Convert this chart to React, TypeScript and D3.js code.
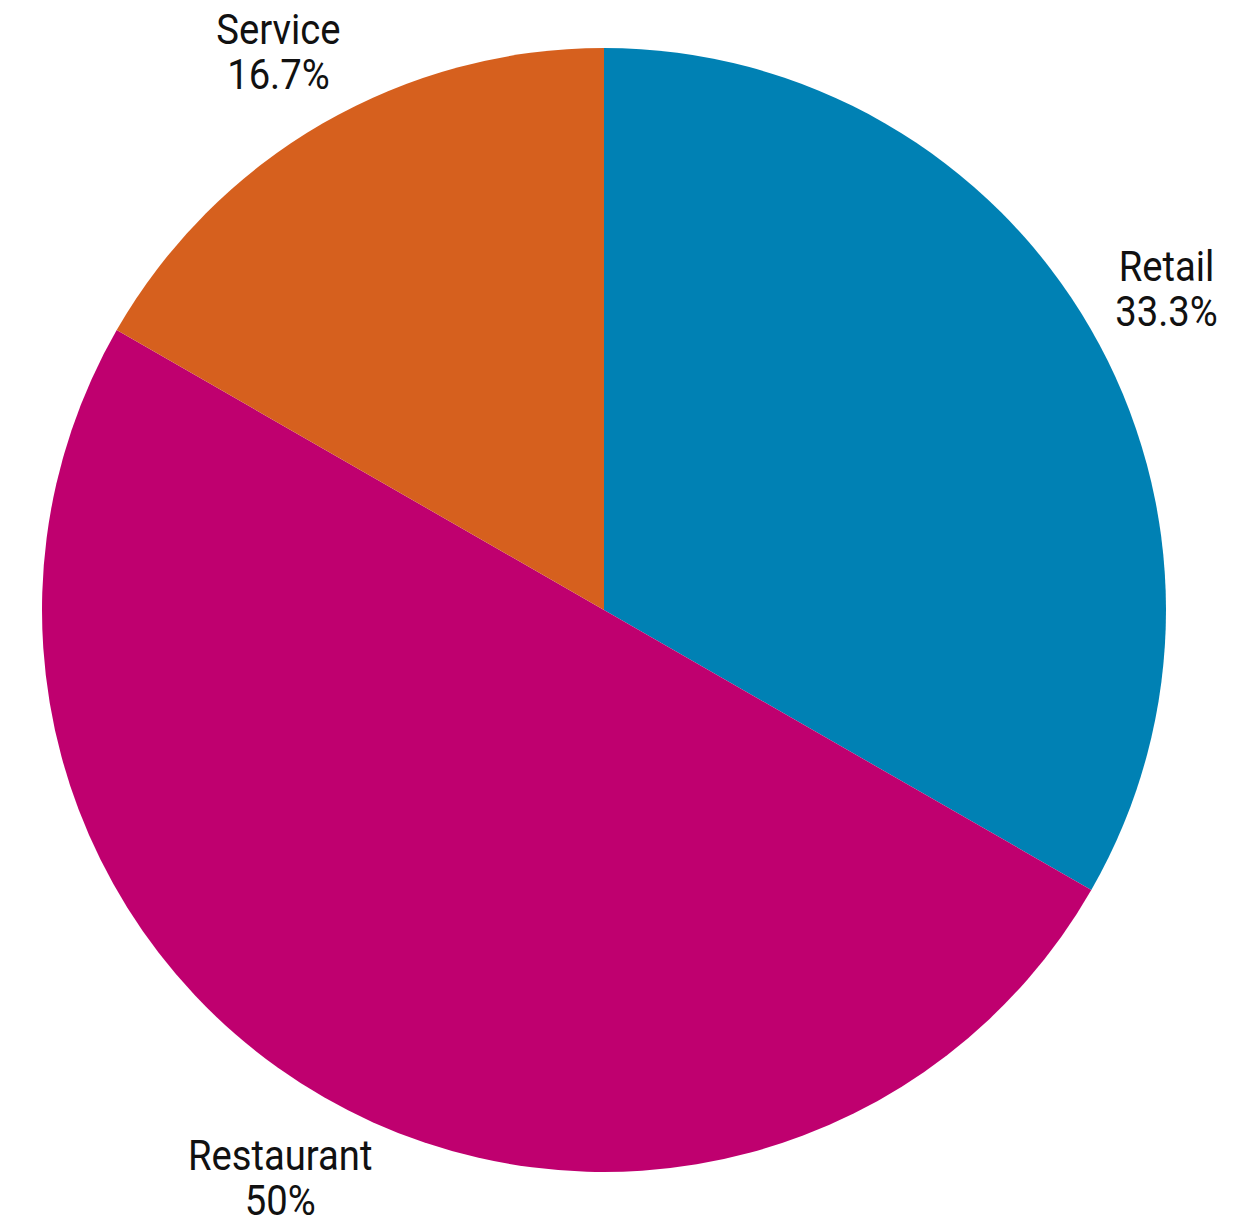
import React from "react";
import * as d3 from "d3";

const categories = ["Retail", "Restaurant", "Service"];
const values = [33.3, 50, 16.7];
const valueLabels = ["33.3%", "50%", "16.7%"];
const colors = ["#0081B4", "#BF006F", "#D6601E"];

export default function App() {
  const width = 1253;
  const height = 1224;
  const cx = 604;
  const cy = 610;
  const r = 562;
  const labelR = 650;
  const fontSize = 42;
  const sx = 0.91;
  const lineH = 45.5;
  const cap = fontSize * 0.711;
  const dyShift = 4;
  const data = categories.map((c, i) => ({ c, v: values[i], l: valueLabels[i], color: colors[i] }));
  const pie = d3.pie<any>().value((d) => d.v).sort(null);
  const arcs = pie(data);
  const arc = d3.arc<any>().innerRadius(0).outerRadius(r);
  return (
    <svg width={width} height={height} style={{ position: "absolute", left: 0, top: 0 }}>
      <g transform={`translate(${cx},${cy})`}>
        {arcs.map((a, i) => (
          <path key={i} d={arc(a) as string} fill={a.data.color} />
        ))}
        {arcs.map((a, i) => {
          const mid = (a.startAngle + a.endAngle) / 2;
          const bx = Math.sin(mid) * labelR;
          const by = -Math.cos(mid) * labelR + dyShift;
          const h = cap + lineH;
          const top = by - h / 2;
          return (
            <g key={"l" + i} transform={`translate(${bx},${top}) scale(${sx},1)`}>
              <text textAnchor="middle" fontFamily="Roboto" fontSize={fontSize} fill="#111">
                <tspan x={0} y={cap}>{a.data.c}</tspan>
                <tspan x={0} y={cap + lineH}>{a.data.l}</tspan>
              </text>
            </g>
          );
        })}
      </g>
    </svg>
  );
}
